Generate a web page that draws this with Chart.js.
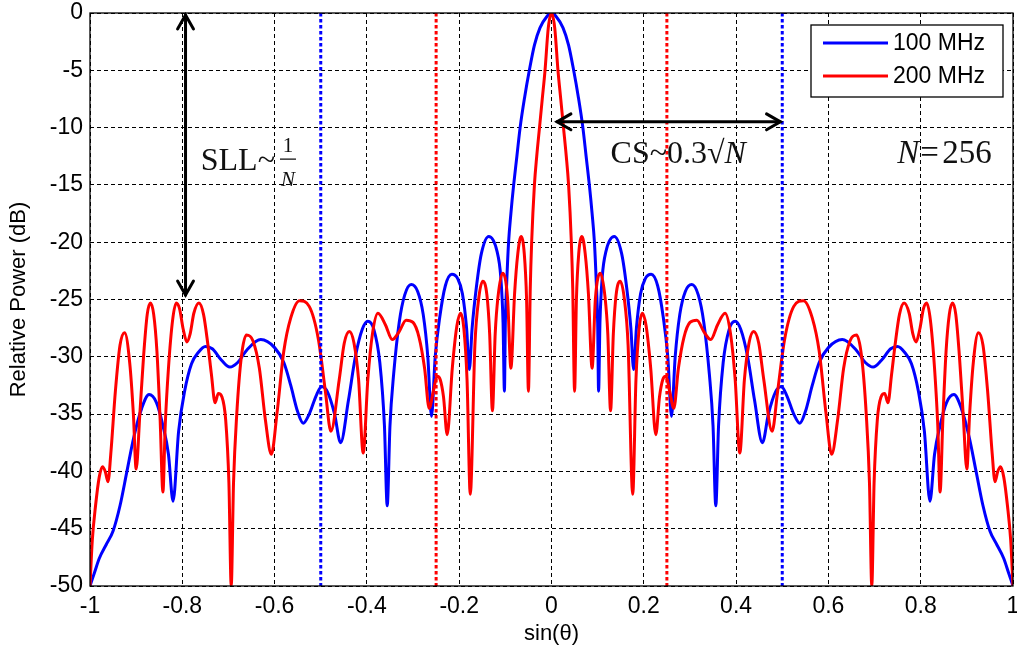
<!DOCTYPE html>
<html>
<head>
<meta charset="utf-8">
<script src="https://cdn.jsdelivr.net/npm/chart.js@4.4.1/dist/chart.umd.min.js"></script>
<style>
  html, body { margin: 0; padding: 0; background: #fff; }
  #wrap { width: 1017px; height: 653px; }
</style>
</head>
<body>
<div id="wrap"><canvas id="grafico" width="1017" height="653"></canvas></div>
<script>
// valores: sin(theta) e potência relativa (dB)
const sinTheta100 = [
  -1, -0.99, -0.98, -0.965, -0.95, -0.935, -0.92, -0.905, -0.888, -0.872, -0.856, -0.842, -0.83, -0.82,
  -0.808, -0.795, -0.78, -0.765, -0.75, -0.735, -0.715, -0.697, -0.68, -0.66, -0.63, -0.6, -0.58, -0.565,
  -0.55, -0.538, -0.525, -0.51, -0.498, -0.485, -0.47, -0.457, -0.44, -0.425, -0.41, -0.398, -0.385, -0.372,
  -0.362, -0.356, -0.35, -0.342, -0.33, -0.318, -0.304, -0.29, -0.278, -0.268, -0.26, -0.252, -0.242, -0.23,
  -0.216, -0.203, -0.193, -0.184, -0.178, -0.172, -0.163, -0.152, -0.136, -0.118, -0.11, -0.105, -0.102, -0.1,
  -0.097, -0.093, -0.088, -0.082, -0.075, -0.068, -0.058, -0.048, -0.037, -0.025, -0.01,
  0,
  0.01, 0.025, 0.037, 0.048, 0.058, 0.068, 0.075, 0.082, 0.088, 0.093, 0.097, 0.1, 0.102, 0.105,
  0.11, 0.118, 0.136, 0.152, 0.163, 0.172, 0.178, 0.184, 0.193, 0.203, 0.216, 0.23, 0.242, 0.252,
  0.26, 0.268, 0.278, 0.29, 0.304, 0.318, 0.33, 0.342, 0.35, 0.356, 0.362, 0.372, 0.385, 0.398,
  0.41, 0.425, 0.44, 0.457, 0.47, 0.485, 0.498, 0.51, 0.525, 0.538, 0.55, 0.565, 0.58, 0.6,
  0.63, 0.66, 0.68, 0.697, 0.715, 0.735, 0.75, 0.765, 0.78, 0.795, 0.808, 0.82, 0.83, 0.842,
  0.856, 0.872, 0.888, 0.905, 0.92, 0.935, 0.95, 0.965, 0.98, 0.99, 1
];
const power100 = [
  -50, -48.8, -47.6, -46.4, -45.2, -43, -40, -37, -34.5, -33.3, -34, -36, -38.5, -42.6,
  -36.5, -33, -30.6, -29.6, -29.1, -29.3, -30.3, -30.9, -30.5, -29.4, -28.5, -29.2, -30.5, -32.5,
  -34.8, -35.8, -35, -33.4, -32.6, -33.1, -35, -37.5, -33.8, -30, -27.6, -26.9, -27.6, -30.5,
  -36, -43, -36, -31.5, -27, -24.6, -23.7, -24.3, -26.3, -30, -35.2, -30, -26.5, -23.8,
  -22.8, -23.2, -24.5, -27.5, -31.1, -27.5, -24, -21, -19.5, -20.8, -23, -27, -33, -27,
  -23.5, -20, -17.5, -15, -12.5, -10, -7.3, -5, -2.8, -1.3, -0.3,
  0,
  -0.3, -1.3, -2.8, -5, -7.3, -10, -12.5, -15, -17.5, -20, -23.5, -27, -33, -27,
  -23, -20.8, -19.5, -21, -24, -27.5, -31.1, -27.5, -24.5, -23.2, -22.8, -23.8, -26.5, -30,
  -35.2, -30, -26.3, -24.3, -23.7, -24.6, -27, -31.5, -36, -43, -36, -30.5, -27.6, -26.9,
  -27.6, -30, -33.8, -37.5, -35, -33.1, -32.6, -33.4, -35, -35.8, -34.8, -32.5, -30.5, -29.2,
  -28.5, -29.4, -30.5, -30.9, -30.3, -29.3, -29.1, -29.6, -30.6, -33, -36.5, -42.6, -38.5, -36,
  -34, -33.3, -34.5, -37, -40, -43, -45.2, -46.4, -47.6, -48.8, -50
];
const sinTheta200 = [
  -1, -0.995, -0.988, -0.98, -0.973, -0.967, -0.961, -0.955, -0.945, -0.935, -0.925, -0.914, -0.906, -0.9,
  -0.892, -0.884, -0.876, -0.869, -0.862, -0.855, -0.848, -0.842, -0.837, -0.83, -0.821, -0.813, -0.806, -0.798,
  -0.79, -0.783, -0.775, -0.764, -0.754, -0.745, -0.737, -0.729, -0.722, -0.714, -0.706, -0.699, -0.694, -0.689,
  -0.682, -0.672, -0.661, -0.647, -0.633, -0.62, -0.607, -0.595, -0.58, -0.565, -0.546, -0.525, -0.505, -0.49,
  -0.478, -0.46, -0.449, -0.438, -0.428, -0.418, -0.408, -0.398, -0.388, -0.376, -0.36, -0.345, -0.33, -0.315,
  -0.3, -0.287, -0.275, -0.265, -0.256, -0.248, -0.241, -0.234, -0.226, -0.215, -0.205, -0.197, -0.19, -0.183,
  -0.176, -0.166, -0.158, -0.149, -0.14, -0.134, -0.128, -0.122, -0.116, -0.106, -0.095, -0.088, -0.08, -0.073,
  -0.066, -0.059, -0.054, -0.05, -0.046, -0.043, -0.037, -0.032, -0.026, -0.02, -0.014, -0.007,
  0,
  0.007, 0.014, 0.02, 0.026, 0.032, 0.037, 0.043, 0.046, 0.05, 0.054, 0.059, 0.066, 0.073, 0.08,
  0.088, 0.095, 0.106, 0.116, 0.122, 0.128, 0.134, 0.14, 0.149, 0.158, 0.166, 0.176, 0.183, 0.19,
  0.197, 0.205, 0.215, 0.226, 0.234, 0.241, 0.248, 0.256, 0.265, 0.275, 0.287, 0.3, 0.315, 0.33,
  0.345, 0.36, 0.376, 0.388, 0.398, 0.408, 0.418, 0.428, 0.438, 0.449, 0.46, 0.478, 0.49, 0.505,
  0.525, 0.546, 0.565, 0.58, 0.595, 0.607, 0.62, 0.633, 0.647, 0.661, 0.672, 0.682, 0.689, 0.694,
  0.699, 0.706, 0.714, 0.722, 0.729, 0.737, 0.745, 0.754, 0.764, 0.775, 0.783, 0.79, 0.798, 0.806,
  0.813, 0.821, 0.83, 0.837, 0.842, 0.848, 0.855, 0.862, 0.869, 0.876, 0.884, 0.892, 0.9, 0.906,
  0.914, 0.925, 0.935, 0.945, 0.955, 0.961, 0.967, 0.973, 0.98, 0.988, 0.995, 1
];
const power200 = [
  -50, -46, -43, -40.5, -39.6, -40, -40.9, -38.5, -33, -29, -27.9, -30.5, -35, -39.8,
  -35, -30, -26.3, -25.3, -26.3, -29.5, -35.5, -41.8, -36, -31, -26.8, -25.3, -25.8, -27.6,
  -28.7, -28, -26.2, -25.3, -26.3, -28.8, -31.5, -34, -33.2, -33.5, -35.5, -41, -50, -41,
  -35, -30, -28.1, -28.6, -31, -35.5, -38.5, -35, -29.5, -26.6, -25.1, -25.6, -28.5, -33,
  -36.5, -32, -28.8, -27.8, -28.8, -32, -38.4, -32, -28, -26.2, -27.2, -28.5, -27.8, -26.8,
  -27, -28.3, -31, -34.5, -33, -31.7, -32, -33.5, -36.8, -31, -27.3, -26.2, -27.5, -32,
  -42, -29, -25, -23.4, -24.6, -28, -34.7, -28, -24.8, -22.7, -25, -31, -24.5, -21,
  -19.5, -21, -25, -33, -24, -20, -15, -12.5, -10, -7.5, -5, -1.3,
  0,
  -1.3, -5, -7.5, -10, -12.5, -15, -20, -24, -33, -25, -21, -19.5, -21, -24.5,
  -31, -25, -22.7, -24.8, -28, -34.7, -28, -24.6, -23.4, -25, -29, -42, -32, -27.5,
  -26.2, -27.3, -31, -36.8, -33.5, -32, -31.7, -33, -34.5, -31, -28.3, -27, -26.8, -27.8,
  -28.5, -27.2, -26.2, -28, -32, -38.4, -32, -28.8, -27.8, -28.8, -32, -36.5, -33, -28.5,
  -25.6, -25.1, -26.6, -29.5, -35, -38.5, -35.5, -31, -28.6, -28.1, -30, -35, -41, -50,
  -41, -35.5, -33.5, -33.2, -34, -31.5, -28.8, -26.3, -25.3, -26.2, -28, -28.7, -27.6, -25.8,
  -25.3, -26.8, -31, -36, -41.8, -35.5, -29.5, -26.3, -25.3, -26.3, -30, -35, -39.8, -35,
  -30.5, -27.9, -29, -33, -38.5, -40.9, -40, -39.6, -40.5, -43, -46, -50
];
// linhas pontilhadas verticais (limites)
const limits100 = [-0.5, 0.5];
const limits200 = [-0.25, 0.25];
// rótulos dos eixos
const xTickLabels = ['-1', '-0.8', '-0.6', '-0.4', '-0.2', '0', '0.2', '0.4', '0.6', '0.8', '1'];
const yTickLabels = ['-50', '-45', '-40', '-35', '-30', '-25', '-20', '-15', '-10', '-5', '0'];
const seriesNames = ['100 MHz', '200 MHz'];
const seriesColors = ['#0000ff', '#ff0000'];

const yMin = -50, yMax = 0;

function pairs(xs, ys) {
  return xs.map((x, i) => ({ x: x, y: ys[i] }));
}

function limitLine(x, color) {
  return {
    label: 'lim',
    data: [{ x: x, y: yMax }, { x: x, y: yMin }],
    borderColor: color,
    borderWidth: 3,
    borderDash: [3.5, 2.5],
    pointRadius: 0,
    tension: 0,
    order: 0
  };
}

// ponta de seta aberta
function arrowHead(ctx, x, y, ang) {
  const L = 16, w = 0.52;
  ctx.beginPath();
  ctx.moveTo(x + L * Math.cos(ang + w), y + L * Math.sin(ang + w));
  ctx.lineTo(x, y);
  ctx.lineTo(x + L * Math.cos(ang - w), y + L * Math.sin(ang - w));
  ctx.stroke();
}

const extras = {
  id: 'extras',
  afterDatasetsDraw(chart) {
    const ctx = chart.ctx, sx = chart.scales.x, sy = chart.scales.y, a = chart.chartArea;
    ctx.save();
    // moldura
    ctx.strokeStyle = '#000';
    ctx.lineWidth = 1.3;
    ctx.setLineDash([]);
    ctx.strokeRect(a.left, a.top, a.right - a.left, a.bottom - a.top);

    // setas
    ctx.lineWidth = 3;
    ctx.lineCap = 'round';
    const vx = sx.getPixelForValue(-0.793);
    const vy1 = sy.getPixelForValue(0) + 2, vy2 = sy.getPixelForValue(-24.6);
    ctx.beginPath(); ctx.moveTo(vx, vy1); ctx.lineTo(vx, vy2); ctx.stroke();
    arrowHead(ctx, vx, vy1, Math.PI / 2);
    arrowHead(ctx, vx, vy2, -Math.PI / 2);
    const hy = sy.getPixelForValue(-9.5);
    const hx1 = sx.getPixelForValue(0.012), hx2 = sx.getPixelForValue(0.496);
    ctx.beginPath(); ctx.moveTo(hx1, hy); ctx.lineTo(hx2, hy); ctx.stroke();
    arrowHead(ctx, hx1, hy, 0);
    arrowHead(ctx, hx2, hy, Math.PI);

    // textos
    ctx.fillStyle = '#111';
    ctx.textBaseline = 'alphabetic';
    ctx.textAlign = 'left';
    const serif = '"Liberation Serif", "DejaVu Serif", serif';
    ctx.font = '32px ' + serif;
    ctx.fillText('SLL~', sx.getPixelForValue(-0.76), sy.getPixelForValue(-13.7));
    const fx = sx.getPixelForValue(-0.571);
    ctx.textAlign = 'center';
    ctx.font = '21px ' + serif;
    ctx.fillText('1', fx, sy.getPixelForValue(-12.1));
    ctx.font = 'italic 21px ' + serif;
    ctx.fillText('N', fx, sy.getPixelForValue(-15.1));
    ctx.lineWidth = 1.2; ctx.lineCap = 'butt';
    const fy = sy.getPixelForValue(-12.75);
    ctx.beginPath(); ctx.moveTo(fx - 8, fy); ctx.lineTo(fx + 8, fy); ctx.stroke();

    ctx.textAlign = 'left';
    const by = sy.getPixelForValue(-13.05);
    let tx = sx.getPixelForValue(0.128);
    ctx.font = '32px ' + serif;
    const cs = 'CS~0.3\u221A';
    ctx.fillText(cs, tx, by);
    tx += ctx.measureText(cs).width;
    ctx.font = 'italic 32px ' + serif;
    ctx.fillText('N', tx, by);

    tx = sx.getPixelForValue(0.749);
    ctx.font = 'italic 33px ' + serif;
    ctx.fillText('N', tx, by);
    ctx.font = '33px ' + serif;
    ctx.fillText('=', tx + 23, by);
    ctx.fillText('256', tx + 45, by);

    // legenda
    const lx = a.right - 202, ly = a.top + 12, lw = 192, lh = 72;
    ctx.fillStyle = '#fff';
    ctx.fillRect(lx, ly, lw, lh);
    ctx.strokeStyle = '#000'; ctx.lineWidth = 1.3;
    ctx.strokeRect(lx, ly, lw, lh);
    ctx.font = '23px "Liberation Sans", Arial, sans-serif';
    ctx.textBaseline = 'middle';
    seriesNames.forEach((name, i) => {
      const yy = ly + 18 + i * 33;
      ctx.strokeStyle = seriesColors[i]; ctx.lineWidth = 3;
      ctx.beginPath(); ctx.moveTo(lx + 12, yy); ctx.lineTo(lx + 77, yy); ctx.stroke();
      ctx.fillStyle = '#000';
      ctx.fillText(name, lx + 82, yy + 1);
    });
    ctx.restore();
  }
};

const datasets = [
  {
    label: seriesNames[0],
    data: pairs(sinTheta100, power100),
    borderColor: seriesColors[0],
    borderWidth: 3,
    pointRadius: 0,
    cubicInterpolationMode: 'monotone',
    order: 2
  },
  {
    label: seriesNames[1],
    data: pairs(sinTheta200, power200),
    borderColor: seriesColors[1],
    borderWidth: 3,
    pointRadius: 0,
    cubicInterpolationMode: 'monotone',
    order: 1
  }
];
limits100.forEach(v => datasets.push(limitLine(v, seriesColors[0])));
limits200.forEach(v => datasets.push(limitLine(v, seriesColors[1])));

const tickFont = { family: '"Liberation Sans", Arial, sans-serif', size: 23 };

new Chart(document.getElementById('grafico'), {
  type: 'line',
  data: { datasets: datasets },
  options: {
    responsive: false,
    animation: false,
    events: [],
    layout: { padding: { top: 13, right: 4, left: 0, bottom: 0 } },
    plugins: { legend: { display: false }, tooltip: { enabled: false } },
    scales: {
      x: {
        type: 'linear',
        min: -1, max: 1,
        afterFit: s => { s.height = 67; s.paddingLeft = 0; s.paddingRight = 0; },
        ticks: {
          stepSize: 0.2,
          padding: 7,
          color: '#000',
          font: tickFont,
          maxRotation: 0,
          callback: (v, i) => xTickLabels[i]
        },
        grid: { color: '#000', lineWidth: 1, drawTicks: false },
        border: { display: false, dash: [4, 3] },
        title: { display: true, text: 'sin(\u03B8)', color: '#000', font: { family: tickFont.family, size: 22 }, padding: { top: 0, bottom: 6 } }
      },
      y: {
        min: yMin, max: yMax,
        afterFit: s => { s.width = 90; s.paddingTop = 0; s.paddingBottom = 0; },
        ticks: {
          stepSize: 5,
          padding: 7,
          color: '#000',
          font: tickFont,
          callback: (v, i) => yTickLabels[i]
        },
        grid: { color: '#000', lineWidth: 1, drawTicks: false },
        border: { display: false, dash: [4, 3] },
        title: { display: true, text: 'Relative Power (dB)', color: '#000', font: { family: tickFont.family, size: 22 }, padding: { top: 6, bottom: 0 } }
      }
    }
  },
  plugins: [extras]
});
</script>
</body>
</html>
